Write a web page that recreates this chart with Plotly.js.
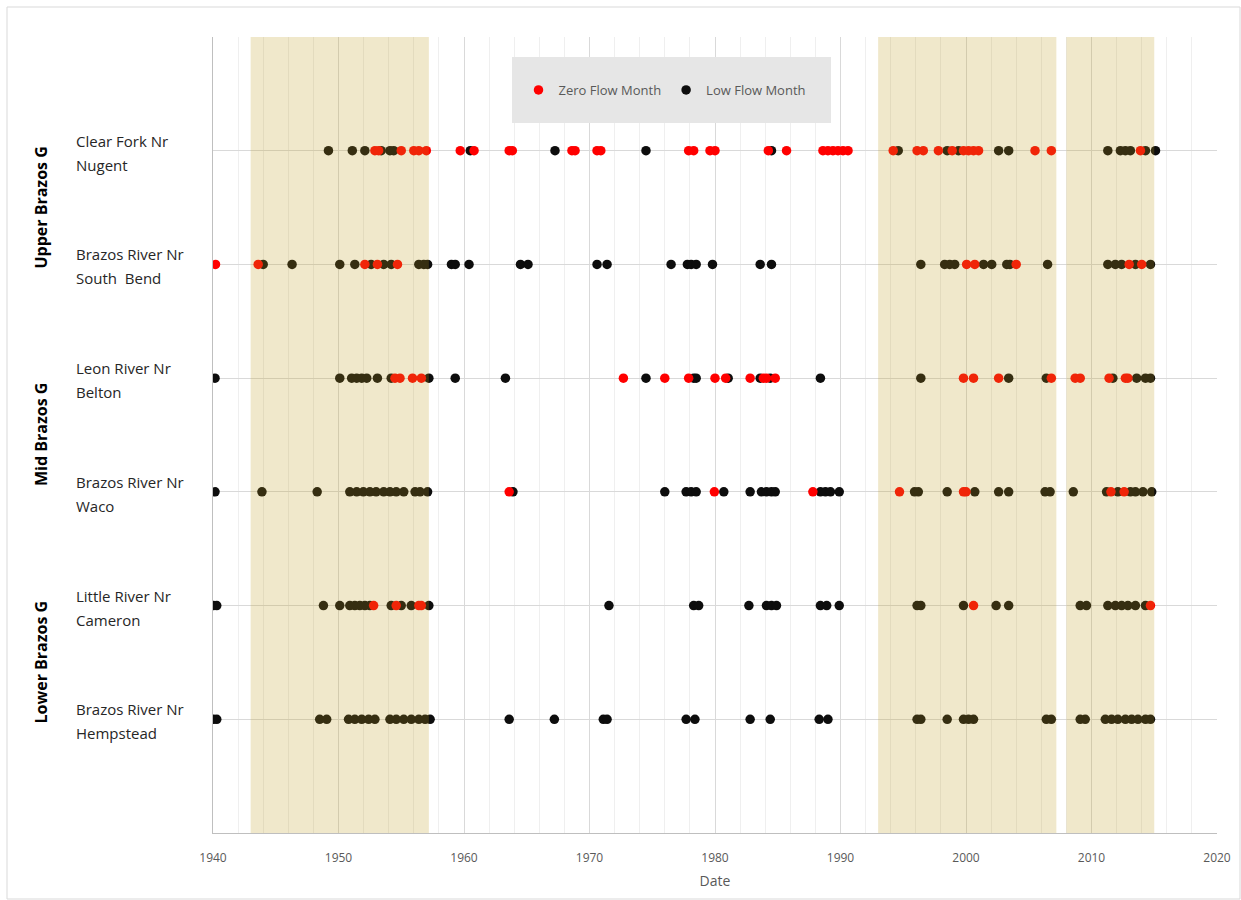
<!DOCTYPE html>
<html>
<head>
<meta charset="utf-8">
<script src="https://cdn.plot.ly/plotly-3.0.1.min.js"></script>
<style>html,body{margin:0;padding:0;background:#fff;}#chart{width:1241px;height:900px;}</style>
</head>
<body>
<div id="chart"></div>
<script>
// Stations (top to bottom) and their row positions
const stations = ["Clear Fork Nr<br>Nugent", "Brazos River Nr<br>South  Bend", "Leon River Nr<br>Belton", "Brazos River Nr<br>Waco", "Little River Nr<br>Cameron", "Brazos River Nr<br>Hempstead"];
const rowPos = [6, 5, 4, 3, 2, 1];
const groups = ["Upper Brazos G", "Mid Brazos G", "Lower Brazos G"];
const groupPos = [5.5, 3.5, 1.5];

// Zero flow months (decimal year)
const nugentZero = [1952.9, 1953.2, 1955.0, 1956.0, 1956.4, 1957.0, 1959.7, 1960.8, 1963.6, 1963.85, 1968.6, 1968.85, 1970.6, 1970.9, 1977.9, 1978.3, 1979.6, 1980.0, 1984.25, 1985.7, 1988.6, 1989.0, 1989.4, 1989.8, 1990.2, 1990.6, 1994.2, 1996.1, 1996.6, 1997.8, 1998.9, 1999.8, 2000.2, 2000.6, 2001.0, 2005.5, 2006.8, 2013.9];
const southBendZero = [1940.2, 1943.6, 1952.1, 1953.1, 1954.7, 2000.05, 2000.7, 2004.0, 2013.0, 2014.0];
const beltonZero = [1954.5, 1954.9, 1955.9, 1956.6, 1972.7, 1976.0, 1977.9, 1980.0, 1980.85, 1982.8, 1983.85, 1984.1, 1984.8, 1999.8, 2000.6, 2002.6, 2006.8, 2008.7, 2009.1, 2011.4, 2012.7, 2012.9];
const wacoZero = [1963.6, 1979.95, 1987.8, 1994.7, 1999.8, 2000.0, 2011.55, 2012.6];
const cameronZero = [1952.8, 1954.6, 1956.4, 1956.6, 2000.6, 2014.7];
const hempsteadZero = [];

// Low flow months (decimal year)
const nugentLow = [1949.2, 1951.1, 1952.1, 1953.4, 1954.1, 1954.4, 1960.5, 1967.25, 1974.5, 1984.5, 1994.6, 1998.5, 1999.4, 2002.6, 2003.4, 2011.3, 2012.3, 2012.7, 2013.1, 2014.3, 2015.1];
const southBendLow = [1944.0, 1946.3, 1950.1, 1951.3, 1952.6, 1953.6, 1954.2, 1956.4, 1956.8, 1957.1, 1959.0, 1959.3, 1960.4, 1964.5, 1965.1, 1970.6, 1971.4, 1976.5, 1977.8, 1978.1, 1978.5, 1979.8, 1983.6, 1984.5, 1996.4, 1998.3, 1998.7, 1999.1, 2001.4, 2002.05, 2003.25, 2003.5, 2006.5, 2011.3, 2011.9, 2012.4, 2013.5, 2014.7];
const beltonLow = [1940.16, 1950.1, 1951.05, 1951.45, 1951.85, 1952.25, 1953.1, 1954.2, 1957.2, 1959.3, 1963.3, 1974.5, 1978.3, 1978.5, 1981.05, 1983.6, 1984.4, 1988.4, 1996.4, 2003.4, 2006.4, 2011.7, 2013.6, 2014.3, 2014.7];
const wacoLow = [1940.16, 1943.9, 1948.3, 1950.9, 1951.45, 1951.98, 1952.5, 1953.0, 1953.6, 1954.1, 1954.6, 1955.2, 1956.1, 1956.5, 1957.1, 1963.9, 1976.0, 1977.7, 1978.1, 1978.5, 1980.7, 1982.8, 1983.7, 1984.1, 1984.5, 1984.8, 1988.4, 1988.8, 1989.2, 1989.9, 1995.9, 1996.2, 1998.5, 2000.7, 2002.6, 2003.4, 2006.3, 2006.7, 2008.55, 2011.2, 2012.1, 2013.1, 2013.5, 2014.1, 2014.8];
const cameronLow = [1940.03, 1940.3, 1948.8, 1950.1, 1950.9, 1951.3, 1951.7, 1952.1, 1952.5, 1954.2, 1955.0, 1955.8, 1957.2, 1971.55, 1978.3, 1978.7, 1982.7, 1984.1, 1984.5, 1984.9, 1988.4, 1988.9, 1989.9, 1996.1, 1996.4, 1999.8, 2002.4, 2003.4, 2009.1, 2009.6, 2011.3, 2011.9, 2012.4, 2012.9, 2013.5, 2014.3];
const hempsteadLow = [1940.03, 1940.3, 1948.5, 1949.06, 1950.8, 1951.3, 1951.85, 1952.4, 1952.9, 1954.1, 1954.6, 1955.2, 1955.8, 1956.4, 1956.9, 1957.3, 1963.6, 1967.2, 1971.1, 1971.4, 1977.7, 1978.4, 1982.8, 1984.4, 1988.3, 1989.0, 1996.1, 1996.4, 1998.5, 1999.8, 2000.2, 2000.6, 2006.4, 2006.8, 2009.1, 2009.5, 2011.1, 2011.6, 2012.1, 2012.7, 2013.2, 2013.7, 2014.3, 2014.7];

// Drought periods (shaded)
const droughtStart = [1943.0, 1993.0, 2008.0];
const droughtEnd = [1957.2, 2007.2, 2015.0];

const zeroSets = [nugentZero, southBendZero, beltonZero, wacoZero, cameronZero, hempsteadZero];
const lowSets = [nugentLow, southBendLow, beltonLow, wacoLow, cameronLow, hempsteadLow];

function flatten(sets) {
  const xs = [], ys = [];
  sets.forEach((arr, i) => arr.forEach(v => { xs.push(v); ys.push(rowPos[i]); }));
  return {xs, ys};
}
const low = flatten(lowSets);
const zero = flatten(zeroSets);

const traces = [
  {type: 'scatter', mode: 'markers', name: 'Low Flow Month', x: low.xs, y: low.ys,
   marker: {color: '#0d0d0d', size: 9.5}, hoverinfo: 'x'},
  {type: 'scatter', mode: 'markers', name: 'Zero Flow Month', x: zero.xs, y: zero.ys,
   marker: {color: '#ff0000', size: 9.5}, hoverinfo: 'x'}
];

// pixel helpers for paper coords (plot area 213..1217 x, 37..833 y)
const px = p => (p - 213) / 1004;
const py = p => (833 - p) / 796;
const rowUnitPx = 796 / 7;

const shapes = [];
// outer chart border
shapes.push({type: 'rect', xref: 'paper', yref: 'paper', x0: px(7), x1: px(1240), y0: py(899), y1: py(7),
  line: {color: '#d9d9d9', width: 1}, fillcolor: 'rgba(0,0,0,0)', layer: 'below'});
droughtStart.forEach((s, i) => {
  shapes.push({type: 'rect', xref: 'x', yref: 'paper', x0: s, x1: droughtEnd[i], y0: 0, y1: 1,
    fillcolor: 'rgb(191,158,34)', opacity: 0.235, line: {width: 0}, layer: 'above'});
});
// legend box
shapes.push({type: 'rect', xref: 'paper', yref: 'paper', x0: px(512), x1: px(831), y0: py(123), y1: py(57),
  fillcolor: '#e6e6e6', line: {width: 0}, layer: 'above'});

const annotations = [];
stations.forEach((s, i) => {
  const lines = s.split('<br>');
  const offs = [10, -14];
  lines.forEach((ln, j) => {
    annotations.push({xref: 'paper', yref: 'y', x: px(74), y: rowPos[i] + offs[j] / rowUnitPx, text: ln, showarrow: false,
      xanchor: 'left', yanchor: 'middle', align: 'left',
      font: {family: 'Open Sans, sans-serif', size: 15, color: '#262626'}});
  });
});
groups.forEach((g, i) => {
  annotations.push({xref: 'paper', yref: 'y', x: px(41), y: groupPos[i], text: '<b>' + g + '</b>', showarrow: false,
    textangle: -90, xanchor: 'center', yanchor: 'middle',
    font: {family: 'Open Sans, sans-serif', size: 16, color: '#000000'}});
});

const layout = {
  width: 1241, height: 900,
  margin: {l: 213, r: 24, t: 37, b: 67},
  paper_bgcolor: '#ffffff', plot_bgcolor: '#ffffff',
  font: {family: 'Open Sans, sans-serif', color: '#595959'},
  showlegend: true,
  legend: {orientation: 'h', traceorder: 'reversed', x: px(665), y: py(90), xanchor: 'center', yanchor: 'middle',
    bgcolor: 'rgba(0,0,0,0)', font: {size: 13, color: '#595959'}, itemwidth: 30},
  xaxis: {range: [1940, 2020], dtick: 10, tick0: 1940, showgrid: true, gridcolor: '#d9d9d9', gridwidth: 1,
    minor: {dtick: 2, showgrid: true, gridcolor: '#efefef', gridwidth: 1},
    zeroline: false, showline: true, linecolor: '#bfbfbf', ticks: '', ticklabelstandoff: 14,
    tickfont: {size: 12, color: '#595959'},
    title: {text: 'Date', font: {size: 14, color: '#595959'}, standoff: 10}},
  yaxis: {range: [0, 7], dtick: 1, tick0: 0, showgrid: true, gridcolor: '#d9d9d9', gridwidth: 1,
    showticklabels: false, zeroline: false, showline: true, linecolor: '#bfbfbf', ticks: ''},
  shapes: shapes,
  annotations: annotations
};

Plotly.newPlot('chart', traces, layout, {displayModeBar: false, staticPlot: true});
</script>
</body>
</html>
